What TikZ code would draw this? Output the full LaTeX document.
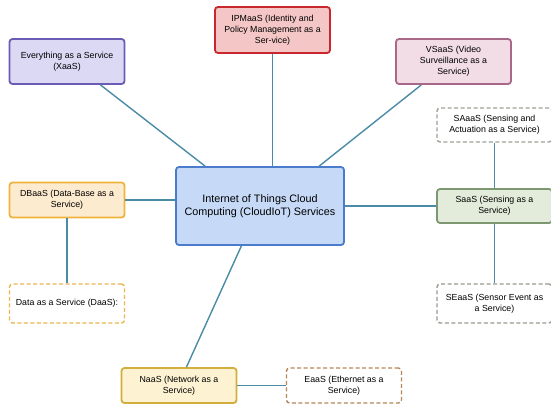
\documentclass[tikz,border=0pt]{standalone}
\usepackage{fontspec}
\setmainfont{Liberation Sans}
\usepackage{tikz}

\definecolor{linkblue}{HTML}{4A8BA6}
\definecolor{xfill}{HTML}{DCD9F5}\definecolor{xdraw}{HTML}{6B5BB5}
\definecolor{ifill}{HTML}{F5C6C6}\definecolor{idraw}{HTML}{C8282D}
\definecolor{vfill}{HTML}{F2DDE6}\definecolor{vdraw}{HTML}{A8688A}
\definecolor{cfill}{HTML}{C6D9F6}\definecolor{cdraw}{HTML}{4A7CCB}
\definecolor{dfill}{HTML}{FDEBD0}\definecolor{ddraw}{HTML}{F0B43C}
\definecolor{sfill}{HTML}{E3ECDA}\definecolor{sdraw}{HTML}{7D9870}
\definecolor{nfill}{HTML}{FDF3D2}\definecolor{ndraw}{HTML}{D2AE3C}
\definecolor{sadraw}{HTML}{9CA496}
\definecolor{dadraw}{HTML}{ECB54F}
\definecolor{sedraw}{HTML}{9A9A90}
\definecolor{edraw}{HTML}{B5875A}

\tikzset{
	svcbox/.style={draw, line width=1.8pt, rounded corners=3pt, align=center,
		minimum width=115pt, minimum height=35pt, inner sep=2pt,
		font=\fontsize{8.8}{10.8}\selectfont},
	dashbox/.style={svcbox, fill=white, line width=1.4pt, dash pattern=on 4pt off 2.5pt},
	link/.style={draw=linkblue, line width=1.4pt}
}

\begin{document}
\begin{tikzpicture}[x=1pt, y=-1pt]
	\useasboundingbox[fill=white] (0,0) rectangle (551,404);
	
	% centre node
	\node[svcbox, fill=cfill, draw=cdraw, minimum width=168pt, minimum height=78pt,
		font=\fontsize{10.8}{13.5}\selectfont] (cloud) at (260,206)
		{Internet of Things Cloud\\Computing (CloudIoT) Services};
	
	% services round it
	\node[svcbox, fill=xfill, draw=xdraw, minimum height=45pt] (xaas) at (67,61.5)
		{Everything as a Service\\(XaaS)};
	\node[svcbox, fill=ifill, draw=idraw, minimum height=46pt] (ipmaas) at (272.5,30)
		{IPMaaS (Identity and\\Policy Management as a\\Ser-vice)};
	\node[svcbox, fill=vfill, draw=vdraw, minimum height=45pt] (vsaas) at (453.5,61.5)
		{VSaaS (Video\\Surveillance as a\\Service)};
	\node[svcbox, fill=dfill, draw=ddraw] (dbaas) at (67,200)
		{DBaaS (Data-Base as a\\Service)};
	\node[svcbox, fill=sfill, draw=sdraw, minimum height=34pt] (saas) at (494.5,206)
		{SaaS (Sensing as a\\Service)};
	\node[svcbox, fill=nfill, draw=ndraw] (naas) at (179,385.5)
		{NaaS (Network as a\\Service)};
	
	% dashed sub-services
	\node[dashbox, draw=sadraw, minimum height=34pt] (saaas) at (494.5,125)
		{SAaaS (Sensing and\\Actuation as a Service)};
	\node[dashbox, draw=dadraw, minimum height=39pt] (daas) at (67,303.5)
		{Data as a Service (DaaS):};
	\node[dashbox, draw=sedraw, minimum height=39pt] (seaas) at (494.5,303.5)
		{SEaaS (Sensor Event as\\a Service)};
	\node[dashbox, draw=edraw] (eaas) at (344,385.5)
		{EaaS (Ethernet as a\\Service)};
	
	% connectors
	\draw[link] (xaas.-35) -- (cloud.144);
	\draw[link] (ipmaas.south) -- (ipmaas.south |- cloud.north);
	\draw[link] (vsaas.216) -- (cloud.34);
	\draw[link] (dbaas.east) -- (cloud.west |- dbaas.east);
	\draw[link] (cloud.east) -- (saas.west);
	\draw[link] (saaas.south) -- (saas.north);
	\draw[link] (saas.south) -- (seaas.north);
	\draw[link] (dbaas.south) -- (daas.north);
	\draw[link] (cloud.245) -- (naas.68);
	\draw[link] (naas.east) -- (eaas.west);
\end{tikzpicture}
\end{document}
